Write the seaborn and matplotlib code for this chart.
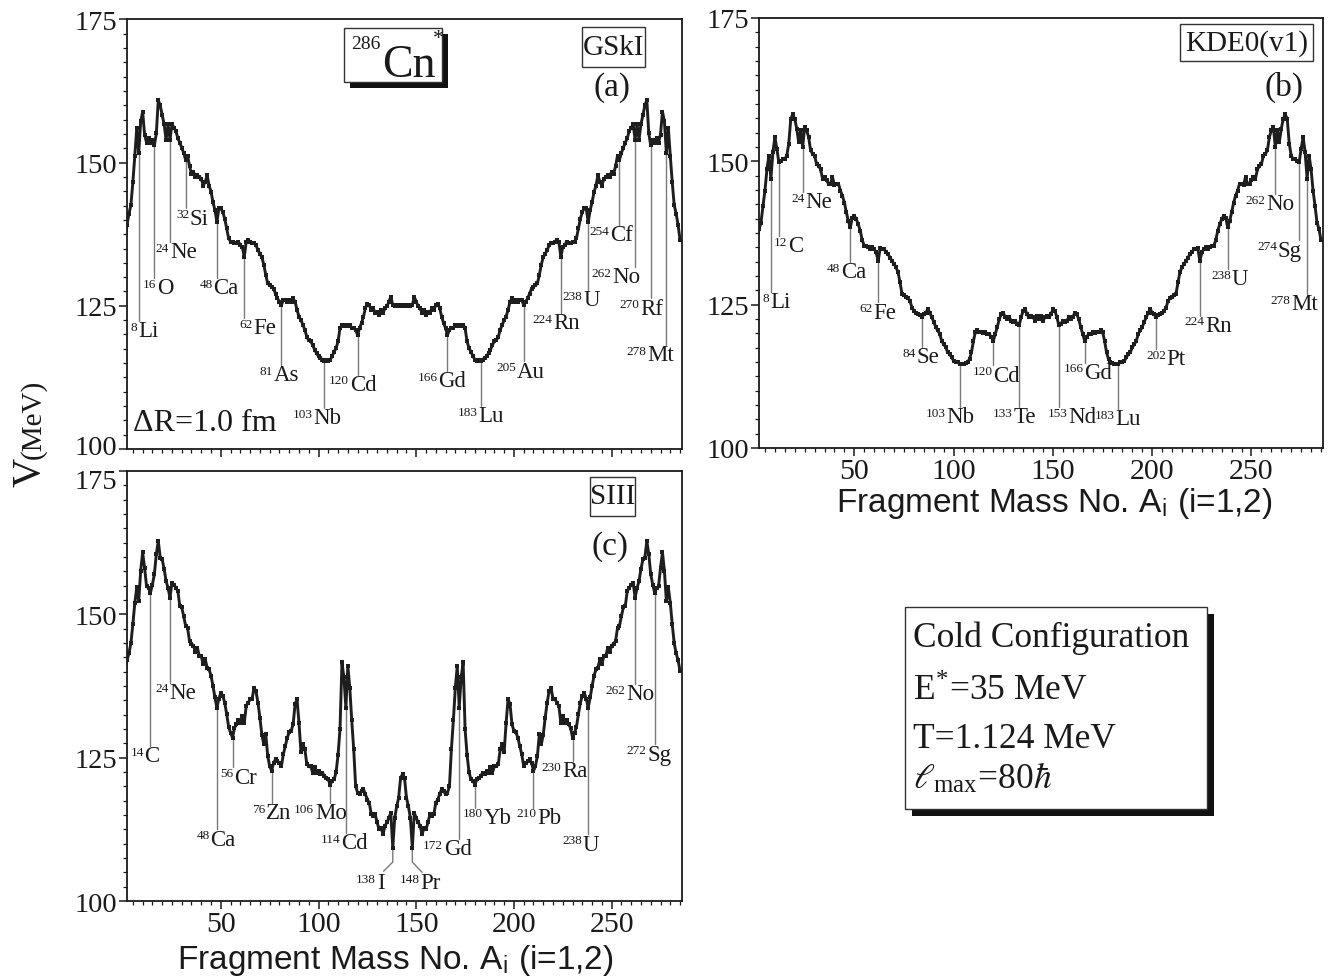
import numpy as np
import pandas as pd
import matplotlib
matplotlib.use("Agg")
import matplotlib.pyplot as plt
import seaborn as sns
from matplotlib.patches import Rectangle
from matplotlib.ticker import MultipleLocator, NullFormatter
from matplotlib.transforms import ScaledTranslation

# ---------------------------------------------------------------- data
mass_numbers = list(range(1, 286))          # fragment mass A_i  (A1 + A2 = 286)

# (a) GSkI : A = 1..143 and A = 144..285
v_gski_light = [
    136.5, 139.1, 141.1, 142.6, 146.6, 151.2, 156.1, 151.7, 157.2, 158.9,
    154.9, 153.5, 154.3, 153.5, 154.0, 153.0, 155.1, 160.9, 160.0, 158.3,
    156.7, 154.0, 156.7, 154.0, 156.7, 156.1, 155.5, 154.3, 153.5, 152.6,
    151.7, 150.5, 151.2, 149.4, 148.0, 148.4, 147.5, 147.8, 147.5, 147.2,
    146.0, 146.6, 147.8, 146.0, 144.9, 143.1, 141.7, 139.6, 142.0, 142.0,
    141.4, 140.2, 138.5, 136.8, 136.2, 136.2, 135.9, 135.9, 136.2, 135.6,
    135.3, 133.5, 136.2, 136.5, 136.2, 135.9, 135.9, 135.6, 134.7, 134.1,
    133.5, 132.2, 130.4, 128.9, 128.6, 128.3, 128.0, 127.1, 126.3, 125.7,
    125.1, 126.0, 126.0, 125.7, 126.0, 125.7, 126.3, 125.7, 124.3, 123.1,
    122.5, 121.7, 120.8, 119.6, 119.0, 118.8, 118.2, 117.3, 116.7, 116.2,
    115.9, 115.6, 115.3, 115.6, 115.3, 115.6, 116.2, 117.0, 117.6, 118.8,
    121.1, 121.7, 121.4, 121.7, 121.4, 121.7, 121.1, 121.1, 120.8, 119.9,
    121.1, 122.0, 123.1, 124.6, 125.4, 125.1, 124.3, 124.6, 123.7, 124.0,
    123.4, 124.3, 123.7, 124.6, 124.9, 125.7, 126.6, 125.1, 124.9, 125.1,
    124.9, 125.1, 124.9]
v_gski_heavy = [
    125.1, 124.9,
    125.1, 124.9, 125.1, 126.6, 125.7, 124.9, 124.6, 123.7, 124.3, 123.4,
    124.0, 123.7, 124.6, 124.3, 125.1, 125.4, 124.6, 123.1, 122.0, 121.1,
    119.9, 120.8, 121.1, 121.1, 121.7, 121.4, 121.7, 121.4, 121.7, 121.1,
    118.8, 117.6, 117.0, 116.2, 115.6, 115.3, 115.6, 115.3, 115.6, 115.9,
    116.2, 116.7, 117.3, 118.2, 118.8, 119.0, 119.6, 120.8, 121.7, 122.5,
    123.1, 124.3, 125.7, 126.3, 125.7, 126.0, 125.7, 126.0, 126.0, 125.1,
    125.7, 126.3, 127.1, 128.0, 128.3, 128.6, 128.9, 130.4, 132.2, 133.5,
    134.1, 134.7, 135.6, 135.9, 135.9, 136.2, 136.5, 136.2, 133.5, 135.3,
    135.6, 136.2, 135.9, 135.9, 136.2, 136.2, 136.8, 138.5, 140.2, 141.4,
    142.0, 142.0, 139.6, 141.7, 143.1, 144.9, 146.0, 147.8, 146.6, 146.0,
    147.2, 147.5, 147.8, 147.5, 148.4, 148.0, 149.4, 151.2, 150.5, 151.7,
    152.6, 153.5, 154.3, 155.5, 156.1, 156.7, 154.0, 156.7, 154.0, 156.7,
    158.3, 160.0, 160.9, 155.1, 153.0, 154.0, 153.5, 154.3, 153.5, 154.9,
    158.9, 157.2, 151.7, 156.1, 151.2, 146.6, 142.6, 141.1, 139.1, 136.5]

# (b) KDE0(v1)
v_kde0_light = [
    136.2, 138.2, 139.3, 142.2, 144.9, 148.6, 151.0, 147.0, 151.6, 154.2,
    152.2, 149.8, 150.1, 150.4, 150.4, 151.0, 153.1, 157.4, 158.2, 157.4,
    155.7, 153.3, 155.4, 152.5, 156.0, 155.4, 154.2, 151.9, 151.3, 151.0,
    149.5, 149.2, 148.6, 147.0, 147.3, 146.7, 146.1, 146.1, 147.3, 145.8,
    146.1, 146.1, 144.9, 144.0, 142.8, 141.1, 139.6, 138.5, 140.2, 140.5,
    139.9, 139.0, 137.9, 136.2, 135.3, 135.3, 135.0, 134.7, 135.0, 134.7,
    134.1, 132.6, 134.8, 134.7, 134.7, 134.1, 133.8, 133.2, 132.6, 132.1,
    131.5, 130.7, 128.9, 126.9, 126.6, 126.3, 126.1, 125.7, 124.5, 123.9,
    123.5, 123.3, 123.2, 122.8, 123.3, 123.6, 124.2, 123.6, 122.8, 122.0,
    121.1, 120.5, 119.9, 118.7, 118.1, 117.6, 116.7, 116.4, 115.8, 115.2,
    115.0, 115.0, 114.6, 114.6, 114.6, 114.8, 115.0, 115.5, 116.7, 118.7,
    120.3, 120.5, 120.2, 120.3, 120.1, 120.2, 119.9, 119.9, 119.3, 118.7,
    119.9, 121.1, 122.5, 123.3, 123.6, 122.8, 122.5, 122.8, 122.2, 122.0,
    122.2, 121.7, 121.4, 122.8, 123.9, 124.2, 123.3, 122.8, 123.1, 122.8,
    122.2, 123.1, 122.5]
v_kde0_heavy = [
    123.1, 122.2,
    122.8, 123.1, 122.8, 123.3, 124.2, 123.9, 122.8, 121.4, 121.7, 122.2,
    122.0, 122.2, 122.8, 122.5, 122.8, 123.6, 123.3, 122.5, 121.1, 119.9,
    118.7, 119.3, 119.9, 119.9, 120.2, 120.1, 120.3, 120.2, 120.5, 120.3,
    118.7, 116.7, 115.5, 115.0, 114.8, 114.6, 114.6, 114.6, 115.0, 115.0,
    115.2, 115.8, 116.4, 116.7, 117.6, 118.1, 118.7, 119.9, 120.5, 121.1,
    122.0, 122.8, 123.6, 124.2, 123.6, 123.3, 122.8, 123.2, 123.3, 123.5,
    123.9, 124.5, 125.7, 126.1, 126.3, 126.6, 126.9, 128.9, 130.7, 131.5,
    132.1, 132.6, 133.2, 133.8, 134.1, 134.7, 134.7, 134.8, 132.6, 134.1,
    134.7, 135.0, 134.7, 135.0, 135.3, 135.3, 136.2, 137.9, 139.0, 139.9,
    140.5, 140.2, 138.5, 139.6, 141.1, 142.8, 144.0, 144.9, 146.1, 146.1,
    145.8, 147.3, 146.1, 146.1, 146.7, 147.3, 147.0, 148.6, 149.2, 149.5,
    151.0, 151.3, 151.9, 154.2, 155.4, 156.0, 152.5, 155.4, 153.3, 155.7,
    157.4, 158.2, 157.4, 153.1, 151.0, 150.4, 150.4, 150.1, 149.8, 152.2,
    154.2, 151.6, 147.0, 151.0, 148.6, 144.9, 142.2, 139.3, 138.2, 136.2]

# (c) SIII
v_siii_light = [
    140.1, 142.0, 143.2, 145.0, 148.3, 152.0, 154.7, 152.3, 157.6, 160.8,
    158.1, 154.9, 154.6, 153.8, 155.2, 157.0, 160.5, 162.8, 159.9, 159.6,
    157.9, 155.8, 154.6, 152.9, 155.5, 155.2, 154.6, 154.1, 151.5, 151.2,
    149.7, 148.0, 147.6, 145.3, 144.9, 144.5, 143.5, 144.2, 142.7, 142.7,
    141.3, 142.2, 140.7, 140.4, 139.3, 137.5, 135.5, 133.7, 135.3, 136.3,
    135.8, 134.6, 132.6, 130.4, 129.3, 128.5, 130.2, 130.8, 131.5, 131.1,
    132.3, 131.1, 134.0, 134.6, 135.2, 135.2, 137.2, 136.6, 134.6, 132.0,
    129.0, 127.3, 129.1, 125.3, 123.5, 122.7, 124.1, 124.7, 124.4, 124.1,
    123.5, 125.6, 127.0, 128.5, 129.4, 129.7, 130.8, 134.3, 135.2, 131.1,
    126.0, 127.3, 126.5, 123.9, 123.5, 123.5, 122.4, 123.3, 122.4, 122.6,
    122.1, 122.4, 121.8, 121.5, 121.2, 120.3, 121.0, 121.2, 122.5, 125.5,
    130.0, 141.6, 139.0, 133.7, 141.0, 137.2, 131.5, 126.5, 120.0, 118.9,
    118.6, 119.2, 119.5, 118.6, 117.7, 117.1, 115.1, 114.8, 115.1, 113.7,
    112.5, 112.8, 111.6, 113.1, 113.7, 114.5, 115.4, 109.3, 114.5, 116.5,
    118.0, 121.5, 122.1]
v_siii_heavy = [
    121.5, 118.0,
    116.5, 114.5, 109.3, 115.4, 114.5, 113.7, 113.1, 111.6, 112.8, 112.5,
    113.7, 115.1, 114.8, 115.1, 117.1, 117.7, 118.6, 119.5, 119.2, 118.6,
    118.9, 120.0, 126.5, 131.5, 137.2, 141.0, 133.7, 139.0, 141.6, 130.0,
    125.5, 122.5, 121.2, 121.0, 120.3, 121.2, 121.5, 121.8, 122.4, 122.1,
    122.6, 122.4, 123.3, 122.4, 123.5, 123.5, 123.9, 126.5, 127.3, 126.0,
    131.1, 135.2, 134.3, 130.8, 129.7, 129.4, 128.5, 127.0, 125.6, 123.5,
    124.1, 124.4, 124.7, 124.1, 122.7, 123.5, 125.3, 129.1, 127.3, 129.0,
    132.0, 134.6, 136.6, 137.2, 135.2, 135.2, 134.6, 134.0, 131.1, 132.3,
    131.1, 131.5, 130.8, 130.2, 128.5, 129.3, 130.4, 132.6, 134.6, 135.8,
    136.3, 135.3, 133.7, 135.5, 137.5, 139.3, 140.4, 140.7, 142.2, 141.3,
    142.7, 142.7, 144.2, 143.5, 144.5, 144.9, 145.3, 147.6, 148.0, 149.7,
    151.2, 151.5, 154.1, 154.6, 155.2, 155.5, 152.9, 154.6, 155.8, 157.9,
    159.6, 159.9, 162.8, 160.5, 157.0, 155.2, 153.8, 154.6, 154.9, 158.1,
    160.8, 157.6, 152.3, 154.7, 152.0, 148.3, 145.0, 143.2, 142.0, 140.1]

# labelled fragments: mass number and element symbol
iso_gski = [(8, "Li"), (16, "O"), (24, "Ne"), (32, "Si"), (48, "Ca"), (62, "Fe"),
            (81, "As"), (103, "Nb"), (120, "Cd"), (166, "Gd"), (183, "Lu"),
            (205, "Au"), (224, "Rn"), (238, "U"), (254, "Cf"), (262, "No"),
            (270, "Rf"), (278, "Mt")]
iso_kde0 = [(8, "Li"), (12, "C"), (24, "Ne"), (48, "Ca"), (62, "Fe"), (84, "Se"),
            (103, "Nb"), (120, "Cd"), (133, "Te"), (153, "Nd"), (166, "Gd"),
            (183, "Lu"), (202, "Pt"), (224, "Rn"), (238, "U"), (262, "No"),
            (274, "Sg"), (278, "Mt")]
iso_siii = [(14, "C"), (24, "Ne"), (48, "Ca"), (56, "Cr"), (76, "Zn"), (106, "Mo"),
            (114, "Cd"), (138, "I"), (148, "Pr"), (172, "Gd"), (180, "Yb"),
            (210, "Pb"), (230, "Ra"), (238, "U"), (262, "No"), (272, "Sg")]

# label placement (left edge of symbol in A units, top of symbol in MeV)
pos_gski = [(7.8, 122.3), (17.2, 129.8), (24.0, 136.2), (34.2, 142.0), (46.2, 129.8),
            (66.6, 122.9), (77.2, 114.7), (97.3, 107.2), (116.1, 113.0), (161.3, 113.6),
            (181.8, 107.5), (201.4, 115.3), (220.2, 123.7), (235.5, 127.8),
            (249.2, 139.1), (250.1, 131.8), (264.5, 126.3), (268.0, 118.2)]
pos_kde0 = [(7.5, 127.2), (16.8, 137.0), (25.2, 144.6), (43.3, 132.4), (59.6, 125.4),
            (81.4, 117.6), (96.5, 107.1), (120.0, 114.4), (130.0, 107.1), (157.7, 107.1),
            (165.8, 114.9), (181.3, 106.8), (207.3, 117.3), (226.6, 123.1),
            (240.0, 131.2), (257.6, 144.3), (263.2, 136.2), (270.2, 126.9)]
pos_siii = [(11.0, 127.0), (23.5, 138.1), (44.7, 112.5), (56.7, 123.3), (73.1, 117.1),
            (98.2, 117.1), (111.4, 111.9), (129.9, 104.9), (152.1, 104.9),
            (164.1, 110.8), (184.6, 116.3), (212.0, 116.3), (224.8, 124.4),
            (235.1, 111.6), (257.3, 137.8), (268.1, 127.3)]
# bent leaders in (c): (knee V, end A, end V)
bent_siii = {138: (106.8, 133.3, 105.2), 148: (106.8, 153.0, 105.0)}

for arr in (v_gski_light, v_kde0_light, v_siii_light):
    assert len(arr) == 143
for arr in (v_gski_heavy, v_kde0_heavy, v_siii_heavy):
    assert len(arr) == 142

# ---------------------------------------------------------------- style
sns.set_style("ticks")
plt.rcParams.update({
    "font.family": ["Liberation Serif", "DejaVu Serif"],
    "mathtext.fontset": "stix",
    "axes.linewidth": 1.3,
    "axes.edgecolor": "#1a1a1a",
    "xtick.direction": "out",
    "ytick.direction": "out",
    "xtick.major.size": 5.5,
    "ytick.major.size": 5.5,
    "xtick.minor.size": 3.0,
    "ytick.minor.size": 3.0,
    "xtick.major.width": 1.1,
    "ytick.major.width": 1.1,
    "xtick.minor.width": 0.9,
    "ytick.minor.width": 0.9,
    "xtick.color": "#1a1a1a",
    "ytick.color": "#1a1a1a",
})

INK = "#1a1a1a"
LEAD = "#7a7a7a"
ISO_FS = 16.5
SUP_FS = 9.5
CAP = 0.662 * ISO_FS
SUP_H = 0.676 * SUP_FS

fig = plt.figure(figsize=(13.43, 9.78), dpi=100)
ax_a = fig.add_axes([0.09457, 0.5399, 0.41325, 0.4392])
ax_b = fig.add_axes([0.56515, 0.5409, 0.41995, 0.4397])
ax_c = fig.add_axes([0.09457, 0.0777, 0.41325, 0.4397])


def add_iso(ax, m, sym, xl, top):
    ax.annotate(sym, xy=(xl, top), xytext=(0, -CAP), textcoords="offset points",
                ha="left", va="baseline", fontsize=ISO_FS, color=INK, zorder=5)
    ax.annotate(str(m), xy=(xl, top), xytext=(-0.6, -SUP_H), textcoords="offset points",
                ha="right", va="baseline", fontsize=SUP_FS, color=INK, zorder=5)


def draw_panel(ax, v_light, v_heavy, isos, poss, bent=None, xlabels=True):
    df = pd.DataFrame({"A": mass_numbers, "V": v_light + v_heavy})
    vmap = dict(zip(df["A"], df["V"]))
    bent = bent or {}
    for (m, sym), (xl, top) in zip(isos, poss):
        if m in bent:
            knee, ea, ev = bent[m]
            ax.plot([m, m, ea], [vmap[m], knee, ev], color=LEAD, lw=1.0, zorder=1)
        else:
            ax.plot([m, m], [vmap[m], top], color=LEAD, lw=1.0, zorder=1)
        add_iso(ax, m, sym, xl, top)
    sns.lineplot(data=df, x="A", y="V", ax=ax, color="#1e1e1e", linewidth=2.1,
                 marker="s", markersize=3.0, markeredgewidth=0, errorbar=None,
                 legend=False, zorder=3)
    ax.set_xlim(2, 286)
    ax.set_ylim(100, 175)
    ax.xaxis.set_major_locator(MultipleLocator(50))
    ax.xaxis.set_minor_locator(MultipleLocator(5))
    ax.yaxis.set_major_locator(MultipleLocator(25))
    ax.yaxis.set_minor_locator(MultipleLocator(2.5))
    ax.set_xticks([50, 100, 150, 200, 250])
    ax.set_yticks([100, 125, 150, 175])
    ax.tick_params(axis="both", which="both", top=False, right=False)
    ax.tick_params(axis="y", labelsize=20.5, pad=1.5)
    ax.tick_params(axis="x", labelsize=21.5, pad=2.0)
    if not xlabels:
        ax.xaxis.set_major_formatter(NullFormatter())
    ax.set_xlabel("")
    ax.set_ylabel("")
    for s in ax.spines.values():
        s.set_visible(True)
        s.set_linewidth(1.3)


def box(ax, x0, y0, x1, y1, shadow=False, dx=0.0, dy=0.0, lw=1.0):
    if shadow:
        ax.add_patch(Rectangle((x0 + dx, y0 - dy), x1 - x0, y1 - y0, transform=ax.transAxes,
                               facecolor="#111111", edgecolor="none", zorder=6, clip_on=False))
    ax.add_patch(Rectangle((x0, y0), x1 - x0, y1 - y0, transform=ax.transAxes,
                           facecolor="white", edgecolor="#333333", lw=lw, zorder=7,
                           clip_on=False))


draw_panel(ax_a, v_gski_light, v_gski_heavy, iso_gski, pos_gski, xlabels=False)
draw_panel(ax_b, v_kde0_light, v_kde0_heavy, iso_kde0, pos_kde0)
draw_panel(ax_c, v_siii_light, v_siii_heavy, iso_siii, pos_siii, bent=bent_siii)

# nudge the two adjacent y tick labels between panels (a) and (c) apart
t_low = ax_a.yaxis.get_major_ticks()[0].label1
t_low.set_transform(t_low.get_transform() + ScaledTranslation(0, 3.5 / 72, fig.dpi_scale_trans))
t_top = ax_c.yaxis.get_major_ticks()[3].label1
t_top.set_transform(t_top.get_transform() + ScaledTranslation(0, -5.5 / 72, fig.dpi_scale_trans))

# ---- panel (a) decorations
box(ax_a, 0.391, 0.854, 0.567, 0.981, shadow=True, dx=0.0108, dy=0.014)
ax_a.text(0.459, 0.869, "Cn", transform=ax_a.transAxes, fontsize=33, ha="left",
          va="baseline", color=INK, zorder=8)
ax_a.text(0.457, 0.9325, "286", transform=ax_a.transAxes, fontsize=14, ha="right",
          va="baseline", color=INK, zorder=8)
ax_a.text(0.561, 0.945, "*", transform=ax_a.transAxes, fontsize=16, ha="center",
          va="baseline", color=INK, zorder=8)
box(ax_a, 0.819, 0.889, 0.933, 0.982)
ax_a.text(0.876, 0.935, "GSkI", transform=ax_a.transAxes, fontsize=21, ha="center",
          va="center", color=INK, zorder=8)
ax_a.text(0.873, 0.843, "(a)", transform=ax_a.transAxes, fontsize=24, ha="center",
          va="center", color=INK, zorder=8)
ax_a.text(0.010, 0.044, "\u0394R=1.0 fm", transform=ax_a.transAxes, fontsize=23,
          ha="left", va="baseline", color=INK, zorder=8)

# ---- panel (b)
box(ax_b, 0.746, 0.900, 0.982, 0.986)
ax_b.text(0.864, 0.943, "KDE0(v1)", transform=ax_b.transAxes, fontsize=21,
          ha="center", va="center", color=INK, zorder=8)
ax_b.text(0.931, 0.842, "(b)", transform=ax_b.transAxes, fontsize=24, ha="center",
          va="center", color=INK, zorder=8)

# ---- panel (c)
box(ax_c, 0.834, 0.896, 0.915, 0.985)
ax_c.text(0.8745, 0.941, "SIII", transform=ax_c.transAxes, fontsize=21, ha="center",
          va="center", color=INK, zorder=8)
ax_c.text(0.870, 0.826, "(c)", transform=ax_c.transAxes, fontsize=24, ha="center",
          va="center", color=INK, zorder=8)

# ---- axis titles
xlab = "Fragment Mass No. A$_\\mathregular{i}$ (i=1,2)"
fig.text(0.294, 0.0095, xlab, fontsize=24, ha="center", va="baseline",
         family=["Liberation Sans", "DejaVu Sans"], color=INK)
fig.text(0.785, 0.4762, xlab, fontsize=24, ha="center", va="baseline",
         family=["Liberation Sans", "DejaVu Sans"], color=INK)
fig.text(0.0223, 0.5174, "V", fontsize=29, rotation=90, ha="center", va="center",
         color=INK)
fig.text(0.0245, 0.5712, "(MeV)", fontsize=21, rotation=90, ha="center", va="center",
         color=INK)

# ---- information box
fx0, fy0, fw, fh = 0.6739, 0.1718, 0.2246, 0.2065
fig.add_artist(Rectangle((fx0 + 0.0052, fy0 - 0.0072), fw, fh, transform=fig.transFigure,
                         facecolor="#111111", edgecolor="none", zorder=1))
fig.add_artist(Rectangle((fx0, fy0), fw, fh, transform=fig.transFigure,
                         facecolor="white", edgecolor="#333333", lw=1.0, zorder=2))
tx = 0.6798
fig.text(tx, 0.3384, "Cold Configuration", fontsize=25.5, ha="left", va="baseline",
         color=INK, zorder=3)
fig.text(tx, 0.2843, "E$^\\mathregular{*}$=35 MeV", fontsize=25.5, ha="left",
         va="baseline", color=INK, zorder=3)
fig.text(tx, 0.2352, "T=1.124 MeV", fontsize=25.5, ha="left", va="baseline",
         color=INK, zorder=3)
fig.text(tx, 0.1943, "$\\ell_{\\mathregular{max}}$=80$\\hbar$", fontsize=25.5,
         ha="left", va="baseline", color=INK, zorder=3)

fig.savefig("out.png", dpi=100)
